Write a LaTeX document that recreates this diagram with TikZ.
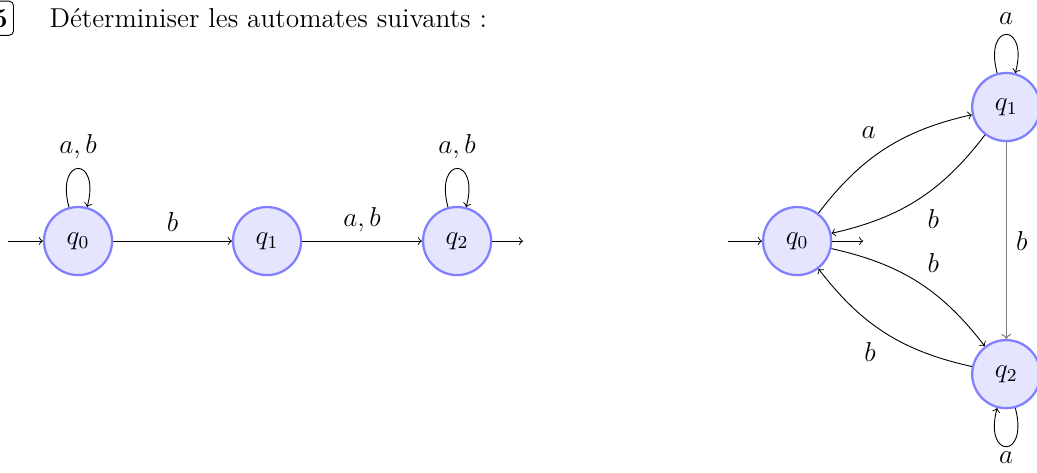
\documentclass[tikz,border=0pt,12pt]{standalone}
\usepackage{tikz}

\begin{document}
\begin{tikzpicture}[
  qstate/.style={circle,draw=blue!50,fill=blue!10,line width=1pt,minimum size=1.05cm,inner sep=0pt},
  trans/.style={->,line width=0.4pt}]
  \clip (0,0) rectangle (16,-7.284);
  % heading
  \node[draw,rounded corners=2pt,font=\bfseries,anchor=base east,inner xsep=2.5pt,inner ysep=3.5pt] (num) at (0.216,-0.417) {5};
  \node[anchor=base west] (title) at (0.617,-0.417) {Déterminiser les automates suivants :};
  % first automaton
  \node[qstate] (a0) at (1.204,-3.719) {$q_0$};
  \node[qstate] (a1) at (4.120,-3.719) {$q_1$};
  \node[qstate] (a2) at (7.052,-3.719) {$q_2$};
  \coordinate (a0in) at (0.123,-3.719);
  \coordinate (a2out) at (8.07,-3.719);
  \draw[trans] (a0in) -- (a0);
  \draw[trans] (a2) -- (a2out);
  \draw[trans] (a0) -- node[above] {$b$} (a1);
  \draw[trans] (a1) -- node[above] {$a,b$} (a2);
  \draw[trans] (a0) to[out=105,in=75,looseness=7.5] node[above] {$a,b$} (a0);
  \draw[trans] (a2) to[out=105,in=75,looseness=7.5] node[above] {$a,b$} (a2);
  % second automaton
  \node[qstate] (b0) at (12.299,-3.719) {$q_0$};
  \node[qstate] (b1) at (15.525,-1.651) {$q_1$};
  \node[qstate] (b2) at (15.525,-5.772) {$q_2$};
  \coordinate (b0in) at (11.235,-3.719);
  \coordinate (b0out) at (13.318,-3.719);
  \draw[trans] (b0in) -- (b0);
  \draw[trans] (b0) -- (b0out);
  \draw[trans] (b0) to[bend left=20] node[auto] {$a$} (b1);
  \draw[trans] (b1) to[bend left=20] node[auto] {$b$} (b0);
  \draw[trans] (b0) to[bend left=20] node[auto] {$b$} (b2);
  \draw[trans] (b2) to[bend left=20] node[auto] {$b$} (b0);
  \draw[trans,gray,line width=0.6pt] (b1) -- node[right,text=black] {$b$} (b2);
  \draw[trans] (b1) to[out=105,in=75,looseness=7.5] node[above] {$a$} (b1);
  \draw[trans] (b2) to[out=-75,in=-105,looseness=7.5] node[below,inner sep=2pt] {$a$} (b2);
\end{tikzpicture}
\end{document}
